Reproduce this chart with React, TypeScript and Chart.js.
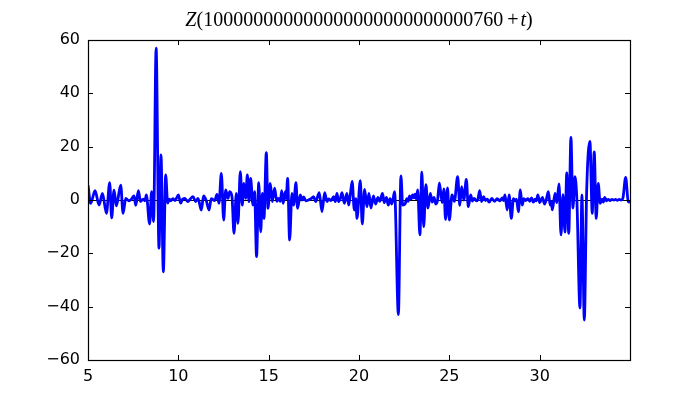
import React, { useEffect, useRef } from "react";
import { Chart, registerables } from "chart.js";

Chart.register(...registerables);

// t values (x) and Z values (y)
const T_VALUES = [
  5.0, 5.15, 5.39, 5.61, 5.8, 6.02, 6.2, 6.31, 6.44, 6.57,
  6.81, 6.94, 7.09, 7.27, 7.4, 7.55, 7.64, 7.79, 7.9, 8.05,
  8.15, 8.23, 8.41, 8.52, 8.63, 8.77, 8.93, 9.04, 9.17, 9.3,
  9.41, 9.5, 9.58, 9.7, 9.82, 10.0, 10.13, 10.22, 10.35, 10.53,
  10.65, 10.81, 10.96, 11.09, 11.27, 11.4, 11.55, 11.7, 11.82, 12.01,
  12.14, 12.25, 12.38, 12.51, 12.62, 12.75, 12.84, 12.97, 13.08, 13.21,
  13.3, 13.43, 13.54, 13.63, 13.73, 13.82, 13.91, 14.0, 14.13, 14.22,
  14.33, 14.45, 14.56, 14.65, 14.74, 14.87, 14.96, 15.09, 15.2, 15.33,
  15.45, 15.55, 15.65, 15.72, 15.8, 15.92, 15.97, 16.05, 16.16, 16.29,
  16.38, 16.51, 16.6, 16.75, 16.85, 16.94, 17.05, 17.2, 17.35, 17.49,
  17.6, 17.8, 17.95, 18.1, 18.23, 18.32, 18.45, 18.6, 18.69, 18.78,
  18.87, 18.97, 19.06, 19.19, 19.33, 19.43, 19.52, 19.62, 19.74, 19.82,
  19.89, 20.07, 20.18, 20.31, 20.44, 20.55, 20.66, 20.8, 20.92, 21.05,
  21.15, 21.3, 21.4, 21.52, 21.62, 21.72, 21.82, 21.97, 22.18, 22.32,
  22.42, 22.55, 22.65, 22.72, 22.8, 22.88, 22.97, 23.04, 23.1, 23.17,
  23.25, 23.37, 23.48, 23.58, 23.7, 23.82, 23.95, 24.05, 24.15, 24.25,
  24.35, 24.45, 24.6, 24.7, 24.79, 24.9, 25.0, 25.15, 25.28, 25.46,
  25.58, 25.68, 25.8, 25.94, 26.05, 26.18, 26.28, 26.38, 26.5, 26.58,
  26.68, 26.78, 26.9, 27.0, 27.1, 27.2, 27.35, 27.5, 27.65, 27.8,
  27.93, 28.0, 28.08, 28.2, 28.31, 28.43, 28.55, 28.65, 28.72, 28.82,
  28.93, 29.03, 29.13, 29.23, 29.35, 29.45, 29.55, 29.65, 29.75, 29.82,
  29.9, 30.0, 30.15, 30.27, 30.38, 30.48, 30.58, 30.64, 30.7, 30.85,
  30.95, 31.07, 31.18, 31.29, 31.4, 31.5, 31.61, 31.73, 31.84, 31.95,
  32.06, 32.23, 32.34, 32.47, 32.6, 32.78, 32.91, 33.02, 33.13, 33.24,
  33.35, 33.45, 33.52, 33.6, 33.7, 33.8, 33.9, 34.0, 34.1, 34.2,
  34.3, 34.4, 34.5, 34.6, 34.76, 34.9, 35.0,
];

const Z_VALUES = [
  5.5, -1.25, 3.5, -1.9, 2.5, -5, 6.5, -6.7, 3.7, -2.2,
  5.6, -5, 0.6, -0.3, 0.3, 1.5, -2, 3.5, -0.5, 0.3,
  -0.3, 1.9, -9, 3.1, -8.1, 56.9, -18.1, 16.9, -26.9, 9.4,
  -1.2, 0.3, -0.3, 0.5, -0.2, 1.9, -1.2, 0.2, 0.6, -0.6,
  0.3, 1.25, -0.6, 0.6, -3.75, 1.5, -0.25, -3.75, 0.5, -0.25,
  2.1, -1.25, 10, -7.5, 3.75, 0.6, 3.1, 1.25, -12.5, 2.5,
  -8.75, 10.6, -1.9, 6.25, 0.6, 9.4, -0.6, 8.1, -1.9, 3.1,
  -21.25, 6.5, -11.9, 2.5, -6.9, 17.75, -3.1, 6.25, -0.6, 4.4,
  -0.5, 0.6, -0.5, 3.5, -1.25, 3.1, 0.5, 8.1, -15, 2.5,
  -1.9, 6.5, -3.1, 1.9, 0, 1.2, -0.3, 0, 0.5, 1.25,
  -0.6, 2.75, -4.4, 2.75, -0.6, 0.4, -0.2, 1.25, -0.6, 2.5,
  -0.6, 0.6, 2.75, -1.25, 2.5, -1.9, 2, 7, -3.75, 0.5,
  -6.9, 7.25, -9, 4, -2.5, 2.5, -3, 1.5, -1.5, 1,
  -0.5, 2.5, -1, 1, -1.9, 0.5, -1.5, 3.1, -43, 9,
  -1.9, -1.5, 0.5, -0.5, 1.5, 0.3, 1.9, 0.8, 2.2, 0.5,
  3.75, -13.1, 10.4, -10, 5.8, -3, 2.5, -0.8, 1, -1.5,
  0, 6.4, -1, 4.2, -7.3, 4.5, -7.5, 1.9, -0.5, 8.75,
  -2, 5, 0, 7.75, -2.5, 1.9, -0.4, 0.6, -0.3, 0.2,
  3.5, -0.6, 1.25, -0.2, 0.3, -0.8, 0.6, -0.5, 0.5, -0.3,
  0.8, -0.2, 1.9, -3.75, 1.9, -6.9, 0.5, -0.3, 0.3, -4.4,
  3.75, -1.9, 0.5, -0.2, 0.5, -0.5, 0.8, -0.8, 0.3, -0.3,
  1.9, -1, 1, -1.5, 0.5, 3.1, -1.9, -0.5, -3.7, 2.5,
  -1, 6, -13.1, 2, -12, 10.2, -12.5, 23.5, -3, 8.75,
  0, -40.5, 1.9, -45, 3, 22, -5, 18, -6.9, 6.25,
  -1.25, 0.3, -0.8, 1, -0.3, 0.2, -0.2, 0.2, 0, 0.2,
  -0.1, 0.2, 0, 0.5, 8.5, -0.5, -0.8,
];

const X_TICKS = [5, 10, 15, 20, 25, 30];
const Y_TICKS = [-60, -40, -20, 0, 20, 40, 60];
const X_MIN = 5;
const X_MAX = 35;
const Y_MIN = -60;
const Y_MAX = 60;

const TITLE_NUMBER = "1" + "0".repeat(26) + "760";
const TITLE_PARTS = [
  { text: "Z", italic: true, gapAfter: 0 },
  { text: "(" + TITLE_NUMBER, italic: false, gapAfter: 4 },
  { text: "+", italic: false, gapAfter: 2 },
  { text: "t", italic: true, gapAfter: 0 },
  { text: ")", italic: false, gapAfter: 0 },
];

const TICK_FONT = { family: "'DejaVu Sans', sans-serif", size: 16 };

const fmt = (v: number) => (v < 0 ? "\u2212" + Math.abs(v) : String(v));

const framePlugin = {
  id: "mplFrame",
  beforeDatasetsDraw(chart: any) {
    const { ctx, chartArea, scales } = chart;
    const y0 = Math.round(scales.y.getPixelForValue(0)) + 0.5;
    ctx.save();
    ctx.strokeStyle = "#000000";
    ctx.lineWidth = 1;
    ctx.beginPath();
    ctx.moveTo(chartArea.left, y0);
    ctx.lineTo(chartArea.right, y0);
    ctx.stroke();
    ctx.restore();
  },
  afterDatasetsDraw(chart: any) {
    const { ctx, chartArea, scales } = chart;
    const { left, right, top, bottom } = chartArea;
    const L = 5;
    ctx.save();
    ctx.strokeStyle = "#000000";
    ctx.lineWidth = 1;
    ctx.beginPath();
    X_TICKS.forEach((v) => {
      const x = Math.round(scales.x.getPixelForValue(v)) + 0.5;
      ctx.moveTo(x, bottom);
      ctx.lineTo(x, bottom - L);
      ctx.moveTo(x, top);
      ctx.lineTo(x, top + L);
    });
    Y_TICKS.forEach((v) => {
      const y = Math.round(scales.y.getPixelForValue(v)) + 0.5;
      ctx.moveTo(left, y);
      ctx.lineTo(left + L, y);
      ctx.moveTo(right, y);
      ctx.lineTo(right - L, y);
    });
    ctx.stroke();
    ctx.lineWidth = 1.2;
    ctx.strokeRect(Math.round(left) + 0.5, Math.round(top) + 0.5, Math.round(right - left), Math.round(bottom - top));
    ctx.restore();

    // title
    ctx.save();
    ctx.fillStyle = "#000000";
    ctx.textBaseline = "alphabetic";
    const size = 20;
    const fontFor = (it: boolean) => (it ? "italic " : "") + size + "px 'Liberation Serif', serif";
    let total = 0;
    const widths = TITLE_PARTS.map((p) => {
      ctx.font = fontFor(p.italic);
      const w = ctx.measureText(p.text).width;
      total += w + p.gapAfter;
      return w;
    });
    let x = (left + right) / 2 - total / 2;
    const yb = 25.5;
    TITLE_PARTS.forEach((p, i) => {
      ctx.font = fontFor(p.italic);
      ctx.fillText(p.text, x, yb);
      x += widths[i] + p.gapAfter;
    });
    ctx.restore();
  },
};

export default function App() {
  const canvasRef = useRef<HTMLCanvasElement | null>(null);

  useEffect(() => {
    const canvas = canvasRef.current;
    if (!canvas) return;
    const points = T_VALUES.map((t, i) => ({ x: t, y: Z_VALUES[i] }));
    const chart = new Chart(canvas, {
      type: "line",
      data: {
        datasets: [
          {
            data: points,
            borderColor: "#0000ff",
            backgroundColor: "#0000ff",
            borderWidth: 2.8,
            pointRadius: 0,
            cubicInterpolationMode: "monotone",
            fill: false,
          },
        ],
      },
      options: {
        animation: false,
        responsive: false,
        devicePixelRatio: 1,
        layout: { padding: { top: 40, right: 70, bottom: 0, left: 0 } },
        plugins: {
          legend: { display: false },
          tooltip: { enabled: false },
          title: { display: false },
        },
        scales: {
          x: {
            type: "linear",
            min: X_MIN,
            max: X_MAX,
            grid: { display: false, drawTicks: false },
            border: { display: false },
            afterBuildTicks: (s: any) => {
              s.ticks = X_TICKS.map((v) => ({ value: v }));
            },
            afterFit: (s: any) => {
              s.height = 40;
            },
            ticks: {
              color: "#000000",
              font: TICK_FONT,
              padding: 7,
              maxRotation: 0,
              autoSkip: false,
              callback: (v: any) => fmt(Number(v)),
            },
          },
          y: {
            type: "linear",
            min: Y_MIN,
            max: Y_MAX,
            grid: { display: false, drawTicks: false },
            border: { display: false },
            afterBuildTicks: (s: any) => {
              s.ticks = Y_TICKS.map((v) => ({ value: v }));
            },
            afterFit: (s: any) => {
              s.width = 88;
            },
            ticks: {
              color: "#000000",
              font: TICK_FONT,
              padding: 8,
              autoSkip: false,
              callback: (v: any) => fmt(Number(v)),
            },
          },
        },
      },
      plugins: [framePlugin],
    });
    return () => chart.destroy();
  }, []);

  return (
    <div style={{ position: "fixed", left: 0, top: 0, width: 700, height: 400, background: "#ffffff" }}>
      <canvas ref={canvasRef} width={700} height={400} style={{ display: "block" }} />
    </div>
  );
}
